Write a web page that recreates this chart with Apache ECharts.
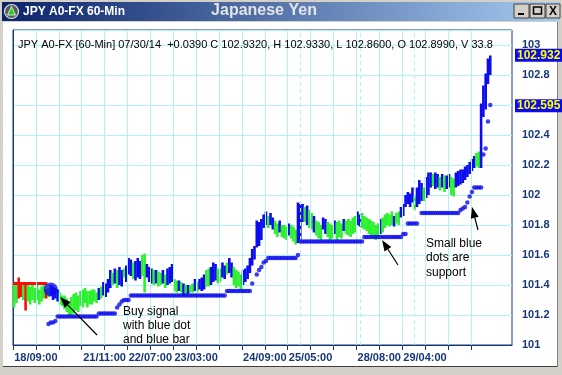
<!DOCTYPE html>
<html><head><meta charset="utf-8">
<script src="https://cdn.jsdelivr.net/npm/echarts@6/dist/echarts.min.js"></script>
<style>html,body{margin:0;padding:0;background:#d4d0c8;}#c{width:562px;height:375px;}</style>
</head><body><div id="c"></div>
<script>
// ---- data (60-min bars, index = bar number) ----
const barLows = [
101.25,101.28,101.31,101.32,101.30,101.23,101.29,101.27,101.30,101.28,
101.30,101.27,101.29,101.31,101.31,101.32,101.33,101.30,101.31,101.29,
101.27,101.26,101.24,101.22,101.20,101.19,101.21,101.23,101.22,101.26,
101.25,101.28,101.25,101.27,101.27,101.29,101.28,101.30,101.31,101.33,
101.32,101.35,101.38,101.40,101.41,101.38,101.40,101.39,101.45,101.42,
101.47,101.46,101.44,101.43,101.45,101.44,101.46,101.35,101.45,101.42,
101.41,101.40,101.41,101.39,101.40,101.41,101.38,101.40,101.41,101.42,
101.36,101.35,101.36,101.35,101.33,101.32,101.34,101.35,101.35,101.36,
101.35,101.37,101.36,101.37,101.39,101.39,101.40,101.42,101.43,101.41,
101.42,101.45,101.44,101.47,101.48,101.45,101.40,101.38,101.39,101.37,
101.40,101.42,101.44,101.48,101.53,101.57,101.65,101.66,101.70,101.78,
101.80,101.78,101.80,101.77,101.74,101.72,101.75,101.72,101.71,101.70,
101.73,101.71,101.69,101.67,101.68,101.70,101.82,101.82,101.80,101.78,
101.77,101.75,101.73,101.71,101.70,101.77,101.74,101.72,101.70,101.71,
101.74,101.70,101.72,101.71,101.76,101.74,101.73,101.72,101.74,101.75,
101.80,101.79,101.78,101.77,101.76,101.74,101.73,101.72,101.70,101.72,
101.74,101.75,101.78,101.80,101.79,101.80,101.79,101.81,101.80,101.85,
101.86,101.92,101.94,101.92,101.95,101.90,101.92,101.94,101.96,101.96,
101.98,102.00,102.05,102.06,102.04,102.05,102.03,102.05,102.02,102.04,
102.05,102.00,101.99,102.05,102.06,102.07,102.08,102.10,102.12,102.14,
102.16,102.18,102.19,102.18,102.18,102.52,102.57,102.74,102.80
];
const barHighs = [
101.40,101.42,101.45,101.41,101.40,101.41,101.40,101.39,101.41,101.38,
101.40,101.37,101.39,101.40,101.37,101.38,101.40,101.39,101.38,101.37,
101.35,101.33,101.33,101.31,101.29,101.32,101.34,101.35,101.33,101.36,
101.37,101.38,101.36,101.36,101.37,101.37,101.35,101.38,101.39,101.42,
101.41,101.44,101.50,101.48,101.51,101.50,101.52,101.50,101.51,101.53,
101.58,101.57,101.55,101.56,101.58,101.56,101.60,101.61,101.54,101.52,
101.51,101.50,101.50,101.49,101.48,101.50,101.47,101.51,101.52,101.54,
101.44,101.43,101.43,101.42,101.41,101.40,101.40,101.40,101.41,101.44,
101.42,101.44,101.45,101.47,101.50,101.51,101.52,101.55,101.54,101.51,
101.51,101.55,101.53,101.55,101.58,101.55,101.52,101.50,101.49,101.47,
101.50,101.51,101.53,101.58,101.64,101.66,101.83,101.82,101.84,101.87,
101.89,101.86,101.88,101.85,101.83,101.81,101.83,101.80,101.80,101.79,
101.81,101.80,101.79,101.77,101.95,101.94,101.94,101.92,101.93,101.90,
101.88,101.86,101.83,101.82,101.80,101.85,101.84,101.82,101.81,101.80,
101.83,101.82,101.83,101.81,101.84,101.83,101.84,101.83,101.85,101.86,
101.89,101.87,101.88,101.86,101.85,101.84,101.83,101.82,101.80,101.81,
101.84,101.85,101.87,101.88,101.87,101.89,101.86,101.88,101.89,101.92,
101.94,102.00,102.02,102.01,102.05,101.99,102.05,102.10,102.08,102.05,
102.12,102.15,102.15,102.14,102.15,102.14,102.12,102.14,102.13,102.13,
102.14,102.12,102.11,102.15,102.16,102.17,102.17,102.19,102.20,102.22,
102.24,102.26,102.28,102.29,102.61,102.73,102.81,102.91,102.93
];
// g = green, b = blue, r = red
const barColorCodes = (
"ggrrgrgggg"+"ggggrgbbbb"+"gggggggggg"+"gggggggbgb"+"bbbgbgbbgb"+
"bbgbbbggbb"+"bgbggbgbbb"+"ggbgbgbggb"+"gbbbggbbbg"+"gbbgbbgggg"+
"bbbbbbbbbb"+"bgbbggbggg"+"bgggbbbgbg"+"gbgggbbggg"+"bgggbggggg"+
"bbgggggggg"+"bgggggbggb"+"bbbbbgbbbg"+"bbbgbbgbgb"+"bggbbbbbbb"+
"bbggbbbbb").split('');
const supportDots = [
null,null,null,null,null,null,null,null,null,null,
null,null,null,null,null,101.14,101.15,101.15,101.16,101.19,
101.19,101.19,101.19,101.19,101.19,101.19,101.19,101.19,101.19,101.19,
101.19,101.19,101.19,101.19,101.19,101.19,101.19,101.21,101.21,101.21,
101.21,101.21,101.21,101.21,101.21,101.25,101.27,101.29,101.30,101.30,
101.30,101.33,101.33,101.33,101.33,101.33,101.33,101.33,101.33,101.33,
101.33,101.33,101.33,101.33,101.33,101.33,101.33,101.33,101.33,101.33,
101.33,101.33,101.33,101.33,101.33,101.33,101.33,101.33,101.33,101.33,
101.33,101.33,101.33,101.33,101.33,101.33,101.33,101.33,101.33,101.33,
101.33,101.33,101.33,101.36,101.36,101.36,101.36,101.36,101.36,101.36,
101.36,101.36,101.36,101.36,101.41,null,101.47,101.50,101.52,101.55,
101.56,101.58,101.58,101.58,101.58,101.58,101.58,101.58,101.58,101.58,
101.58,101.58,101.58,101.58,101.60,101.69,101.69,101.69,101.69,101.69,
101.69,101.69,101.69,101.69,101.69,101.69,101.69,101.69,101.69,101.69,
101.69,101.69,101.69,101.69,101.69,101.69,101.69,101.69,101.69,101.69,
101.69,101.69,101.69,101.72,101.72,101.72,101.72,101.72,101.72,101.72,
101.72,101.72,101.72,101.72,101.72,101.72,101.72,101.72,101.72,101.72,
101.74,101.74,101.81,101.81,101.81,101.81,101.81,null,101.88,101.88,
101.88,101.88,101.88,101.88,101.88,101.88,101.88,101.88,101.88,101.88,
101.88,101.88,101.88,101.88,101.88,101.90,101.91,101.92,101.95,101.99,
102.02,102.05,102.05,102.05,102.05,102.27,102.31,102.49,102.60
];
const redStopLevel = [101.41,101.41,101.41,101.41,101.41,101.41,101.41,101.41,101.41,101.41,101.41,101.41,101.41,101.41,101.41,101.41];
const buySignalBar = 16;
const buySignalPrice = 101.37;
const xTickValues = [0,10,20,30,40,50,60,70,80,90,100,110,120,130,140,150,160,170,180,190,200];
const xLabelValues = [10,40,60,80,110,130,160,180];
const xLabelTexts = ['18/09:00','21/11:00','22/07:00','23/03:00','24/09:00','25/05:00','28/08:00','29/04:00'];
const dayBreakValues = [20,125.5,151.5,175.5];
const priceTags = [102.932, 102.595];
const headerText = 'JPY A0-FX [60-Min] 07/30/14  +0.0390 C 102.9320, H 102.9330, L 102.8600, O 102.8990, V 33.82';

// ---- chart ----
const FONT = '"Liberation Sans", Arial, sans-serif';
const NAVY = '#17377a';
const colorMap = { g: '#2ef02e', b: '#0c0cee', r: '#ff0a0a' };
const GRID = '#b2f2f2';

const barData = barLows.map((lo, i) => [i + 0.5, lo, barHighs[i], barColorCodes[i]]);
const dotData = supportDots.map((v, i) => v == null ? null : [i + 0.5, v]).filter(d => d);
const redData = redStopLevel.map((v, i) => [i, v]);

function arrow(x1, y1, x2, y2) {
  const dx = x2 - x1, dy = y2 - y1, L = Math.hypot(dx, dy);
  const ux = dx / L, uy = dy / L, hl = 11, hw = 4;
  const bx = x2 - ux * hl, by = y2 - uy * hl;
  return [
    { type: 'line', shape: { x1, y1, x2: bx, y2: by }, style: { stroke: '#000', lineWidth: 1.2 }, z: 50 },
    { type: 'polygon', shape: { points: [[x2, y2], [bx - uy * hw, by + ux * hw], [bx + uy * hw, by - ux * hw]] }, style: { fill: '#000' }, z: 50 }
  ];
}

const chart = echarts.init(document.getElementById('c'), null, { renderer: 'canvas' });
const baseGraphics = [
    { type: 'rect', z: -10, shape: { x: 3, y: 22, width: 554, height: 344 }, style: { fill: '#ffffff' } },
    { type: 'line', z: -9, shape: { x1: 3, y1: 366.5, x2: 558, y2: 366.5 }, style: { stroke: '#404040', lineWidth: 1 } },
    { type: 'line', z: -9, shape: { x1: 557.5, y1: 22, x2: 557.5, y2: 367 }, style: { stroke: '#808080', lineWidth: 1 } },
    { type: 'rect', z: -9, shape: { x: 2, y: 2, width: 558, height: 19 },
      style: { fill: new echarts.graphic.LinearGradient(0, 0, 1, 0, [{ offset: 0, color: '#0a246a' }, { offset: 1, color: '#a6caf0' }]) } },
    { type: 'circle', z: 10, shape: { cx: 11.5, cy: 11.5, r: 7 }, style: { fill: '#5a5a5a', stroke: '#e0e0e0', lineWidth: 1.2 } },
    { type: 'polygon', z: 11, shape: { points: [[11.5, 6.5], [7.5, 15], [15.5, 15]] }, style: { fill: '#22cc22', stroke: '#ffffff', lineWidth: 0.8 } },
    { type: 'text', z: 10, style: { text: 'JPY A0-FX 60-Min', x: 23, y: 12, verticalAlign: 'middle', fill: '#ffffff', font: 'bold 12px ' + FONT } },
    { type: 'text', z: 10, style: { text: 'Japanese Yen', x: 264, y: 11, align: 'center', verticalAlign: 'middle', fill: '#e4e4e4', font: 'bold 16px ' + FONT } },
    { type: 'rect', z: 10, shape: { x: 514, y: 4, width: 15, height: 14 }, style: { fill: '#d4d0c8', stroke: '#404040', lineWidth: 1 } },
    { type: 'rect', z: 10, shape: { x: 530, y: 4, width: 15, height: 14 }, style: { fill: '#d4d0c8', stroke: '#404040', lineWidth: 1 } },
    { type: 'rect', z: 10, shape: { x: 546, y: 4, width: 14, height: 14 }, style: { fill: '#d4d0c8', stroke: '#404040', lineWidth: 1 } },
    { type: 'rect', z: 11, shape: { x: 518, y: 13, width: 6, height: 2 }, style: { fill: '#000' } },
    { type: 'rect', z: 11, shape: { x: 533.5, y: 7, width: 8, height: 7 }, style: { fill: 'none', stroke: '#000', lineWidth: 1.5 } },
    { type: 'text', z: 11, style: { text: 'X', x: 553, y: 11.5, align: 'center', verticalAlign: 'middle', fill: '#000', font: 'bold 12px ' + FONT } },
    { type: 'text', z: 20, style: { text: headerText, x: 18, y: 45, verticalAlign: 'middle', fill: '#000', font: '11px ' + FONT,
      width: 480, overflow: 'truncate', ellipsis: '' } },
    { type: 'text', z: 50, style: { text: 'Buy signal\nwith blue dot\nand blue bar', x: 123, y: 305, fill: '#000', font: '12px ' + FONT, lineHeight: 14 } },
    { type: 'text', z: 50, style: { text: 'Small blue\ndots are\nsupport', x: 426, y: 236, fill: '#000', font: '12px ' + FONT, lineHeight: 14.5 } },
    ...arrow(97, 335, 60, 297),
    ...arrow(398, 265, 382, 240),
    ...arrow(478, 230, 472, 207)
];
chart.setOption({
  backgroundColor: '#d4d0c8',
  animation: false,
  grid: { left: 13, right: 50, top: 30, bottom: 30, show: true, backgroundColor: '#ffffff', borderColor: NAVY, borderWidth: 1 },
  xAxis: {
    type: 'value', min: 0, max: 218, interval: 10,
    axisLine: { show: true, lineStyle: { color: NAVY, width: 1 } },
    axisTick: { show: true, customValues: xTickValues, length: 5, lineStyle: { color: NAVY } },
    axisLabel: { customValues: xLabelValues, formatter: v => xLabelTexts[xLabelValues.indexOf(v)] || '',
      color: NAVY, fontFamily: FONT, fontSize: 11, fontWeight: 'bold', margin: 7 },
    splitLine: { show: false }
  },
  yAxis: {
    type: 'value', position: 'right', min: 101, max: 103.1, interval: 0.2,
    axisLine: { show: true, lineStyle: { color: NAVY } },
    axisTick: { show: false },
    axisLabel: { showMaxLabel: false, color: NAVY, fontFamily: FONT, fontSize: 11, fontWeight: 'bold', margin: 10, align: 'left',
      formatter: v => String(Math.round(v * 10) / 10) },
    splitLine: { show: true, lineStyle: { color: GRID, width: 1 } }
  },
  series: [
    { type: 'line', data: [], z: 1, silent: true,
      markLine: { silent: true, symbol: ['none', 'none'], label: { show: false }, animation: false,
        data: xTickValues.slice(1).map(v => ({ xAxis: v, lineStyle: { color: GRID, width: 1, type: 'solid' } }))
          .concat(dayBreakValues.map(v => ({ xAxis: v, lineStyle: { color: GRID, width: 1, type: [4, 3] } }))) } },
    { type: 'custom', z: 3,
      renderItem: (params, api) => {
        const x = api.value(0), lo = api.value(1), hi = api.value(2);
        const c = barData[params.dataIndex][3];
        const p1 = api.coord([x, hi]), p2 = api.coord([x, lo]);
        return { type: 'rect', shape: { x: p1[0] - 1.3, y: p1[1], width: 2.6, height: Math.max(p2[1] - p1[1], 1) }, style: { fill: colorMap[c] } };
      },
      encode: { x: 0, y: [1, 2] },
      data: barData.map(d => d.slice(0, 3)) },
    { type: 'line', z: 4, data: redData, symbol: 'none', lineStyle: { color: colorMap.r, width: 3 } },
    { type: 'scatter', z: 5, data: dotData, symbol: 'circle', symbolSize: 4.5, itemStyle: { color: colorMap.b } },
    { type: 'scatter', z: 6, data: [[buySignalBar + 0.5, buySignalPrice]], symbolSize: 14, itemStyle: { color: colorMap.b } }
  ],
  graphic: baseGraphics
});
// price tags positioned through the y-axis scale
const tagGraphics = priceTags.map(v => {
  const y = chart.convertToPixel({ yAxisIndex: 0 }, v);
  return { type: 'text', z: 60, style: { text: v.toFixed(3), x: 515, y: y, verticalAlign: 'middle', fill: '#ffff00',
    font: 'bold 12px ' + FONT, backgroundColor: '#0a0af0', padding: [1, 3, 0, 2] } };
});
chart.setOption({ graphic: baseGraphics.concat(tagGraphics) });
</script></body></html>
